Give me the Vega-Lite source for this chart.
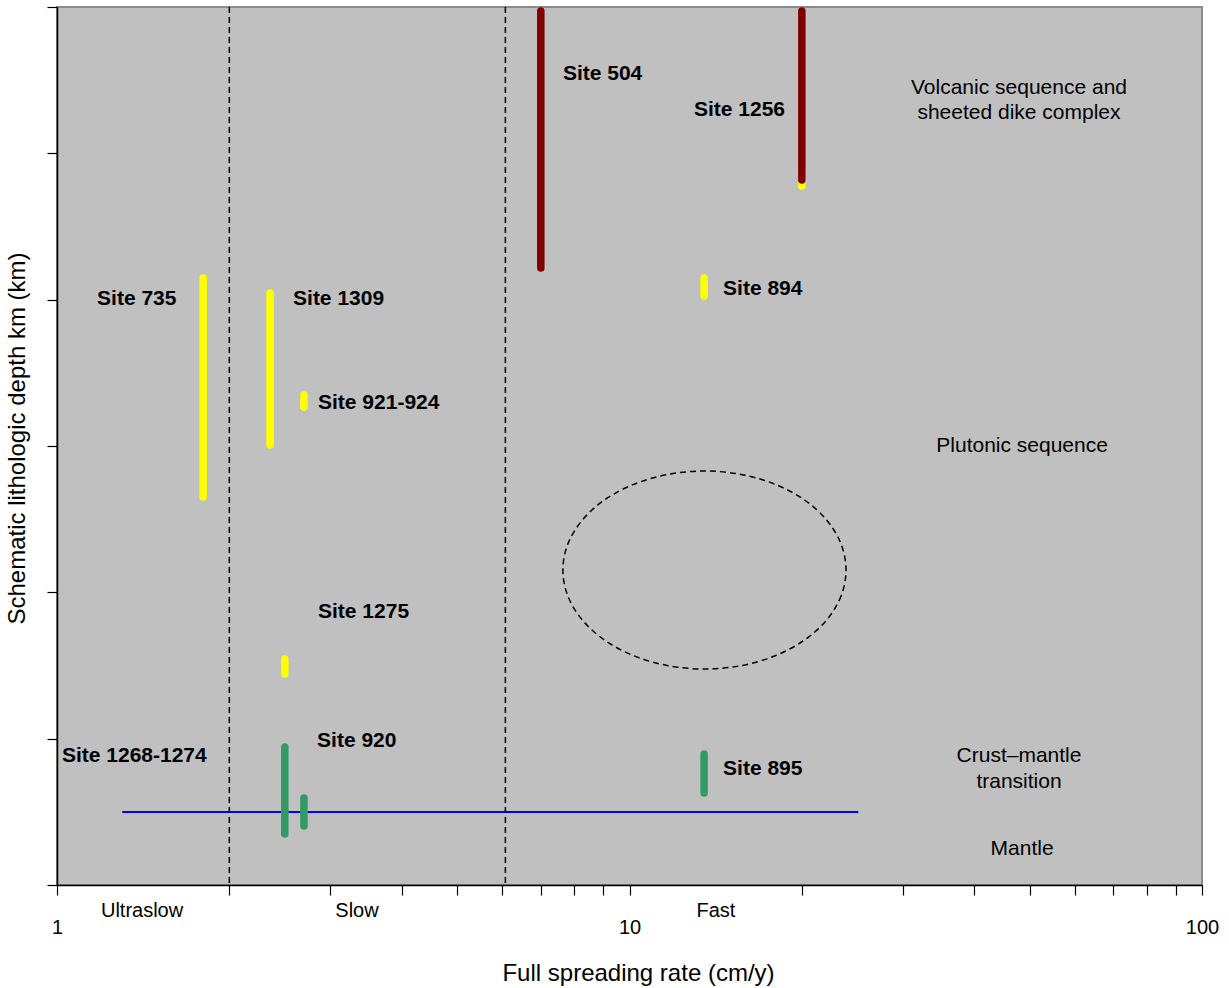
{
  "$schema": "https://vega.github.io/schema/vega-lite/v6.json",
  "width": 1145,
  "height": 878,
  "autosize": {"type": "none"},
  "padding": {"left": 57, "top": 7, "right": 27, "bottom": 103},
  "background": "white",
  "config": {
    "font": "Liberation Sans",
    "view": {"fill": "#c0c0c0", "stroke": "#8a8a8a", "strokeWidth": 2}
  },
  "datasets": {
    "bars": [
      {"site": "Site 735", "rate": 1.80, "top": 1.852, "bottom": 3.349, "rock": "Gabbro"},
      {"site": "Site 1309", "rate": 2.356, "top": 1.954, "bottom": 2.993, "rock": "Gabbro"},
      {"site": "Site 921-924", "rate": 2.70, "top": 2.652, "bottom": 2.734, "rock": "Gabbro"},
      {"site": "Site 1275", "rate": 2.50, "top": 4.456, "bottom": 4.558, "rock": "Gabbro"},
      {"site": "Site 920", "rate": 2.50, "top": 5.057, "bottom": 5.652, "rock": "Peridotite"},
      {"site": "Site 920", "rate": 2.70, "top": 5.406, "bottom": 5.597, "rock": "Peridotite"},
      {"site": "Site 504", "rate": 7.0, "top": 0.027, "bottom": 1.784, "rock": "Volcanic"},
      {"site": "Site 1256", "rate": 20.0, "top": 1.12, "bottom": 1.223, "rock": "Gabbro"},
      {"site": "Site 1256", "rate": 20.0, "top": 0.027, "bottom": 1.182, "rock": "Volcanic"},
      {"site": "Site 894", "rate": 13.5, "top": 1.852, "bottom": 1.975, "rock": "Gabbro"},
      {"site": "Site 895", "rate": 13.5, "top": 5.105, "bottom": 5.371, "rock": "Peridotite"}
    ],
    "bounds": [{"rate": 2}, {"rate": 6.07}],
    "moho": [{"rate_from": 1.30, "rate_to": 25.1, "depth": 5.501}],
    "ellipse": [
      {"i": 0, "rate": 23.89, "depth": 3.847},
      {"i": 1, "rate": 23.43, "depth": 4.023},
      {"i": 2, "rate": 22.13, "depth": 4.186},
      {"i": 3, "rate": 20.22, "depth": 4.326},
      {"i": 4, "rate": 17.97, "depth": 4.433},
      {"i": 5, "rate": 15.66, "depth": 4.501},
      {"i": 6, "rate": 13.52, "depth": 4.524},
      {"i": 7, "rate": 11.67, "depth": 4.501},
      {"i": 8, "rate": 10.17, "depth": 4.433},
      {"i": 9, "rate": 9.04, "depth": 4.326},
      {"i": 10, "rate": 8.26, "depth": 4.186},
      {"i": 11, "rate": 7.80, "depth": 4.023},
      {"i": 12, "rate": 7.65, "depth": 3.847},
      {"i": 13, "rate": 7.80, "depth": 3.672},
      {"i": 14, "rate": 8.26, "depth": 3.509},
      {"i": 15, "rate": 9.04, "depth": 3.369},
      {"i": 16, "rate": 10.17, "depth": 3.262},
      {"i": 17, "rate": 11.67, "depth": 3.194},
      {"i": 18, "rate": 13.52, "depth": 3.171},
      {"i": 19, "rate": 15.66, "depth": 3.194},
      {"i": 20, "rate": 17.97, "depth": 3.262},
      {"i": 21, "rate": 20.22, "depth": 3.369},
      {"i": 22, "rate": 22.13, "depth": 3.509},
      {"i": 23, "rate": 23.43, "depth": 3.672}
    ],
    "sitelabels": [
      {"label": "Site 504", "rate": 7.65, "depth": 0.458},
      {"label": "Site 1256", "rate": 12.96, "depth": 0.704},
      {"label": "Site 894", "rate": 14.57, "depth": 1.927},
      {"label": "Site 735", "rate": 1.175, "depth": 1.996},
      {"label": "Site 1309", "rate": 2.584, "depth": 1.996},
      {"label": "Site 921-924", "rate": 2.857, "depth": 2.706},
      {"label": "Site 1275", "rate": 2.857, "depth": 4.135},
      {"label": "Site 920", "rate": 2.846, "depth": 5.016},
      {"label": "Site 1268-1274", "rate": 1.020, "depth": 5.119},
      {"label": "Site 895", "rate": 14.57, "depth": 5.208}
    ],
    "zones": [
      {"label": "Volcanic sequence and", "rate": 47.9, "depth": 0.554},
      {"label": "sheeted dike complex", "rate": 47.9, "depth": 0.725},
      {"label": "Plutonic sequence", "rate": 48.5, "depth": 3.0},
      {"label": "Crust–mantle", "rate": 47.9, "depth": 5.119},
      {"label": "transition", "rate": 47.9, "depth": 5.296},
      {"label": "Mantle", "rate": 48.5, "depth": 5.754}
    ],
    "speeds": [
      {"label": "Ultraslow", "rate": 1.408, "depth": 6.181},
      {"label": "Slow", "rate": 3.342, "depth": 6.181},
      {"label": "Fast", "rate": 14.16, "depth": 6.181}
    ]
  },
  "layer": [
    {
      "data": {"name": "moho"},
      "mark": {"type": "rule", "color": "#0000ff", "strokeWidth": 2},
      "encoding": {
        "x": {
          "field": "rate_from", "type": "quantitative",
          "scale": {"type": "log", "domain": [1, 100], "nice": false},
          "axis": {
            "title": "Full spreading rate (cm/y)",
            "values": [1, 2, 3, 4, 5, 6, 7, 8, 9, 10, 20, 30, 40, 50, 60, 70, 80, 90, 100],
            "labelExpr": "datum.value == 1 || datum.value == 10 || datum.value == 100 ? format(datum.value, 'd') : ''",
            "grid": false,
            "tickSize": 10,
            "tickColor": "black",
            "tickWidth": 1.2,
            "domainColor": "black",
            "domainWidth": 1.5,
            "labelFontSize": 20,
            "labelColor": "black",
            "labelPadding": 22,
            "labelFlush": false,
            "labelOverlap": false,
            "titleFontSize": 24,
            "titleFontWeight": "normal",
            "titleColor": "black",
            "titlePadding": 24,
            "titleX": 581
          }
        },
        "x2": {"field": "rate_to"},
        "y": {
          "field": "depth", "type": "quantitative",
          "scale": {"domain": [0, 6], "reverse": true, "nice": false},
          "axis": {
            "title": "Schematic lithologic depth km (km)",
            "values": [0, 1, 2, 3, 4, 5, 6],
            "labels": false,
            "grid": false,
            "tickSize": 10,
            "tickColor": "black",
            "tickWidth": 1.2,
            "domainColor": "black",
            "domainWidth": 1.5,
            "titleFontSize": 24,
            "titleFontWeight": "normal",
            "titleColor": "black",
            "titlePadding": 17,
            "titleY": 431
          }
        }
      }
    },
    {
      "data": {"name": "bounds"},
      "mark": {"type": "rule", "color": "black", "strokeWidth": 1.5, "strokeDash": [6, 4]},
      "encoding": {"x": {"field": "rate", "type": "quantitative"}}
    },
    {
      "data": {"name": "ellipse"},
      "mark": {"type": "line", "color": "black", "strokeWidth": 1.5, "strokeDash": [6, 4], "interpolate": "cardinal-closed"},
      "encoding": {
        "x": {"field": "rate", "type": "quantitative"},
        "y": {"field": "depth", "type": "quantitative"},
        "order": {"field": "i", "type": "quantitative"}
      }
    },
    {
      "data": {"name": "bars"},
      "mark": {"type": "rule", "strokeWidth": 7.5, "strokeCap": "round"},
      "encoding": {
        "x": {"field": "rate", "type": "quantitative"},
        "y": {"field": "top", "type": "quantitative"},
        "y2": {"field": "bottom"},
        "color": {
          "field": "rock", "type": "nominal",
          "scale": {"domain": ["Volcanic", "Gabbro", "Peridotite"], "range": ["#800000", "#ffff00", "#339966"]},
          "legend": null
        }
      }
    },
    {
      "data": {"name": "sitelabels"},
      "mark": {"type": "text", "align": "left", "baseline": "middle", "fontSize": 21, "fontWeight": "bold", "color": "black"},
      "encoding": {
        "x": {"field": "rate", "type": "quantitative"},
        "y": {"field": "depth", "type": "quantitative"},
        "text": {"field": "label"}
      }
    },
    {
      "data": {"name": "zones"},
      "mark": {"type": "text", "align": "center", "baseline": "middle", "fontSize": 21, "color": "black"},
      "encoding": {
        "x": {"field": "rate", "type": "quantitative"},
        "y": {"field": "depth", "type": "quantitative"},
        "text": {"field": "label"}
      }
    },
    {
      "data": {"name": "speeds"},
      "mark": {"type": "text", "align": "center", "baseline": "middle", "fontSize": 20, "color": "black"},
      "encoding": {
        "x": {"field": "rate", "type": "quantitative"},
        "y": {"field": "depth", "type": "quantitative"},
        "text": {"field": "label"}
      }
    }
  ]
}
